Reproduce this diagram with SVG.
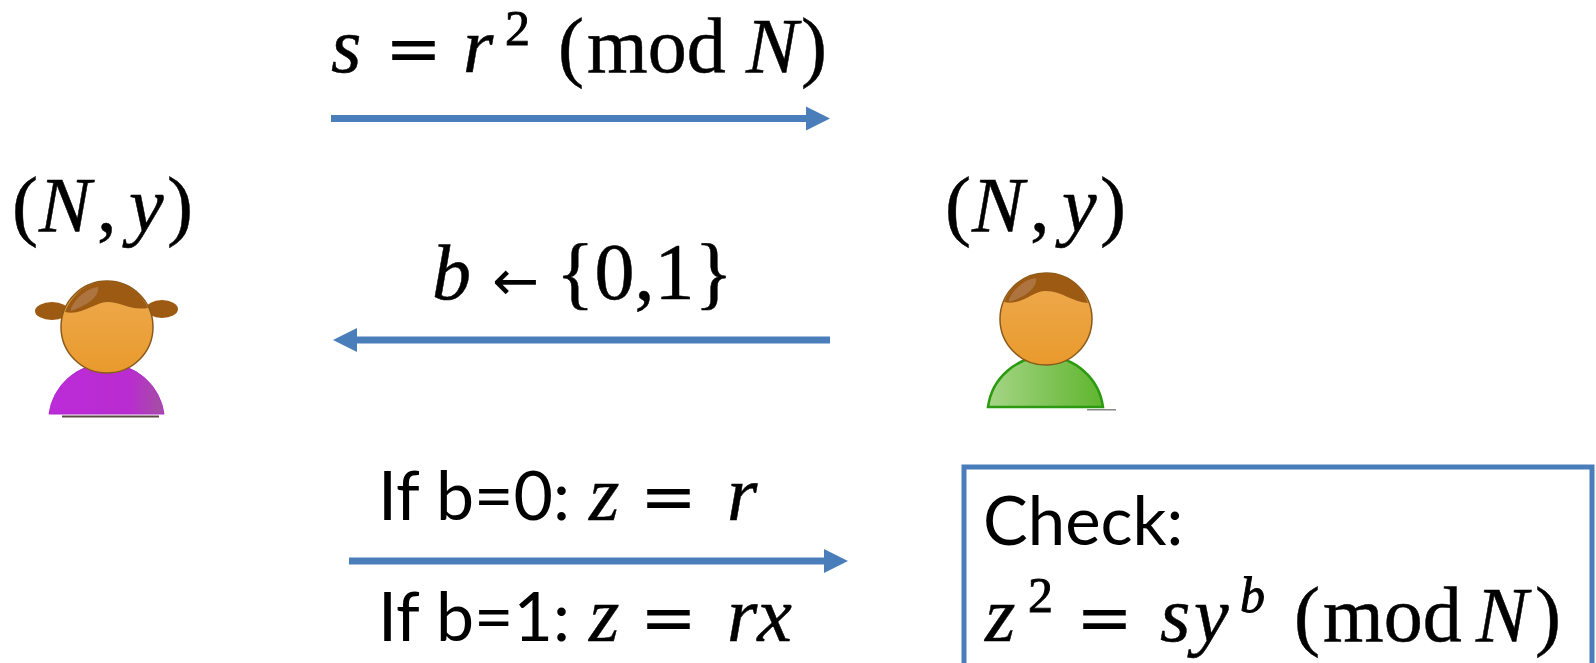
<svg xmlns="http://www.w3.org/2000/svg" width="1596" height="663" viewBox="0 0 1596 663">
<style>
.m{font-family:"Liberation Serif",serif;font-size:78px;fill:#000;stroke:#000;stroke-width:.5}
.i{font-style:italic}
.s{font-size:50px;stroke-width:.9}
.e{font-family:"DejaVu Sans",sans-serif;font-size:68px;fill:#000}
.r{font-family:"DejaVu Sans",sans-serif;font-size:56px;fill:#000}
.t{font-family:Lato,"Liberation Sans",sans-serif;font-size:68px;fill:#000}
.k{font-size:67px}
.c{fill:none;stroke:#4a7ebb;stroke-width:7}
.head{fill:url(#skin);stroke:#8a5a1c;stroke-width:1.5}
.hair{fill:#9c5a12}
.shine{fill:#ad7440}
</style>
<defs>
<marker id="a" markerUnits="userSpaceOnUse" markerWidth="24" markerHeight="26" refX="1" refY="13" orient="auto"><path d="M0 1L24 13L0 25Z" fill="#4a7ebb"/></marker>
<linearGradient id="skin" x1="0" y1="0" x2="0" y2="1"><stop offset="0" stop-color="#eeaa50"/><stop offset="1" stop-color="#e99a2c"/></linearGradient>
<linearGradient id="pur" x1="0" y1="0" x2="1" y2="0"><stop offset="0" stop-color="#bb2bd8"/><stop offset=".7" stop-color="#b92cd0"/><stop offset="1" stop-color="#a3519f"/></linearGradient>
<linearGradient id="grn" x1="0" y1="0" x2="1" y2="0"><stop offset="0" stop-color="#a5d586"/><stop offset="1" stop-color="#5fb52e"/></linearGradient>
</defs>
<g id="connectors">
<path class="c" d="M331 118.500H807" marker-end="url(#a)"/>
<path class="c" d="M830 340H356" marker-end="url(#a)"/>
<path class="c" d="M349 561H825" marker-end="url(#a)"/>
</g>
<g id="msg1">
<text class="m i" x="331" y="72">s</text><text class="e" x="385" y="72">=</text><text class="m i" x="463" y="72">r</text><text class="m s" x="505" y="45">2</text><text class="m" x="558" y="72">(</text><text class="m" x="587" y="72">mod</text><text class="m i" x="746" y="72">N</text><text class="m" x="801" y="72">)</text>
</g>
<g id="alice">
<text class="m" x="12" y="231">(</text><text class="m i" x="39" y="231">N</text><text class="m" x="97" y="231">,</text><text class="m i" x="129" y="231">y</text><text class="m" x="167" y="231">)</text>
<path d="M49 414A58 58 0 0 1 164 414Z" fill="url(#pur)" stroke="#b02bd0" stroke-width="1"/>
<rect x="62" y="415.500" width="97" height="2" fill="#5c4a44"/>
<ellipse cx="52" cy="311" rx="17" ry="9" class="hair"/><ellipse cx="162" cy="309" rx="16" ry="9" class="hair"/>
<circle cx="107" cy="327" r="46" class="head"/>
<path class="hair" d="M65 312C73 292 90 281 107 281C125 281 140 291 148 308C130 311 122 302 107 302C95 302 82 316 65 312Z"/>
<path class="shine" d="M71 308C77 296 88 288 98 287C100 296 88 305 71 311Z"/>
</g>
<g id="bob">
<text class="m" x="945" y="231">(</text><text class="m i" x="972" y="231">N</text><text class="m" x="1030" y="231">,</text><text class="m i" x="1062" y="231">y</text><text class="m" x="1100" y="231">)</text>
<path d="M988 407A58 58 0 0 1 1103 407Z" fill="url(#grn)" stroke="#2b9a10" stroke-width="2.500"/>
<rect x="1087" y="409" width="29" height="1.500" fill="#888"/>
<circle cx="1046" cy="319" r="46" class="head"/>
<path class="hair" d="M1004 302C1012 283 1028 273 1046 273C1066 273 1082 285 1088 303C1072 302 1062 291 1046 291C1032 291 1022 306 1004 302Z"/>
<path class="shine" d="M1009 299C1015 287 1026 279 1036 278C1038 287 1026 297 1009 302Z"/>
</g>
<g id="msg2">
<text class="m i" x="432" y="299">b</text><text class="r" x="492" y="300">←</text><text class="m" x="556" y="299" style="font-size:80px">{0,1}</text>
</g>
<g id="msg3">
<text class="t" x="378" y="520">If b=0:</text><text class="m i" x="589" y="520">z</text><text class="e" x="640" y="520">=</text><text class="m i" x="727" y="520">r</text>
<text class="t" x="378" y="641">If b=1:</text><text class="m i" x="589" y="641">z</text><text class="e" x="640" y="641">=</text><text class="m i" x="727" y="641">rx</text>
</g>
<g id="check">
<rect x="964" y="467" width="628" height="220" fill="none" stroke="#4a7ebb" stroke-width="5"/>
<text class="t k" x="983" y="545">Check:</text>
<text class="m i" x="985" y="641">z</text><text class="m s" x="1028" y="612">2</text><text class="e" x="1076" y="641">=</text><text class="m i" x="1160" y="641">s</text><text class="m i" x="1194" y="641">y</text><text class="m i s" x="1240" y="612">b</text><text class="m" x="1294" y="641">(</text><text class="m" x="1323" y="641">mod</text><text class="m i" x="1476" y="641">N</text><text class="m" x="1535" y="641">)</text>
</g>
</svg>
